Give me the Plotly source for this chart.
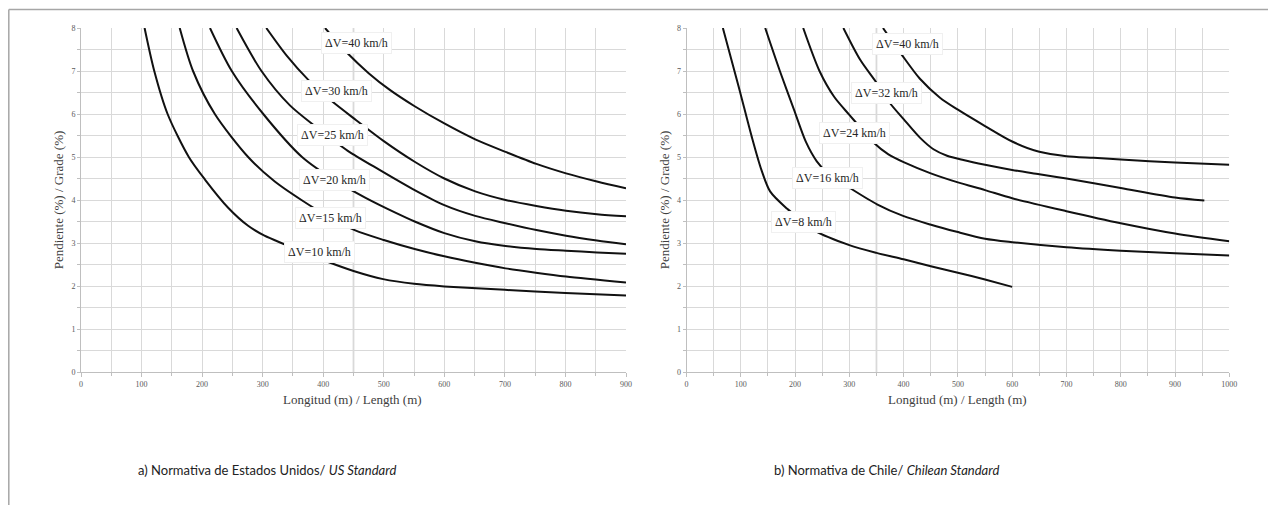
import plotly.graph_objects as go

# ---------------- data: US standard (left panel) ----------------
us_labels = ["ΔV=10 km/h", "ΔV=15 km/h", "ΔV=20 km/h", "ΔV=25 km/h", "ΔV=30 km/h", "ΔV=40 km/h"]

us10_x = [105, 121, 143, 178, 205, 243, 276, 303, 336, 372, 406, 450, 499, 550, 600, 700, 800, 900]
us10_y = [8.0, 7.0, 6.0, 5.0, 4.47, 3.82, 3.40, 3.17, 2.97, 2.76, 2.57, 2.35, 2.16, 2.05, 1.99, 1.91, 1.84, 1.78]

us15_x = [163, 185, 221, 276, 320, 364, 410, 452, 500, 551, 600, 651, 701, 751, 801, 900]
us15_y = [8.0, 7.0, 6.0, 5.0, 4.43, 4.00, 3.60, 3.30, 3.07, 2.86, 2.69, 2.54, 2.41, 2.31, 2.22, 2.08]

us20_x = [213, 249, 301, 365, 420, 470, 520, 551, 600, 651, 701, 752, 801, 852, 900]
us20_y = [8.0, 7.0, 6.0, 5.0, 4.45, 4.05, 3.70, 3.50, 3.23, 3.04, 2.93, 2.86, 2.82, 2.78, 2.75]

us25_x = [257, 298, 345, 390, 440, 493, 551, 600, 651, 701, 752, 801, 852, 900]
us25_y = [8.0, 7.0, 6.2, 5.68, 5.15, 4.70, 4.23, 3.88, 3.63, 3.46, 3.30, 3.17, 3.06, 2.97]

us30_x = [306, 340, 375, 414, 455, 500, 551, 600, 651, 701, 752, 801, 852, 900]
us30_y = [8.0, 7.35, 6.80, 6.30, 5.85, 5.37, 4.89, 4.50, 4.20, 4.00, 3.86, 3.75, 3.67, 3.62]

us40_x = [403, 441, 475, 510, 551, 600, 651, 701, 752, 801, 852, 900]
us40_y = [8.0, 7.40, 6.95, 6.56, 6.18, 5.78, 5.41, 5.12, 4.84, 4.62, 4.43, 4.27]

us_label_x = [394, 412, 419, 416, 422, 455]
us_label_y = [2.79, 3.59, 4.47, 5.51, 6.54, 7.66]

# ---------------- data: Chilean standard (right panel) ----------------
cl_labels = ["ΔV=8 km/h", "ΔV=16 km/h", "ΔV=24 km/h", "ΔV=32 km/h", "ΔV=40 km/h"]

cl8_x = [67, 96, 120, 138, 154, 185, 215, 237, 300, 350, 400, 450, 500, 550, 600]
cl8_y = [8.0, 6.64, 5.48, 4.70, 4.20, 3.80, 3.50, 3.28, 2.95, 2.77, 2.62, 2.46, 2.31, 2.15, 1.98]

cl16_x = [145, 172, 198, 220, 240, 262, 301, 351, 399, 449, 498, 550, 600, 700, 800, 900, 1000]
cl16_y = [8.0, 7.0, 6.1, 5.35, 4.90, 4.60, 4.28, 3.90, 3.63, 3.43, 3.26, 3.10, 3.02, 2.90, 2.82, 2.76, 2.71]

cl24_x = [215, 245, 272, 300, 322, 345, 372, 400, 450, 500, 550, 600, 700, 800, 900, 1000]
cl24_y = [8.0, 7.0, 6.4, 5.98, 5.66, 5.33, 5.06, 4.88, 4.62, 4.41, 4.23, 4.04, 3.74, 3.46, 3.22, 3.04]

cl32_x = [289, 320, 351, 375, 400, 430, 455, 480, 510, 550, 600, 650, 700, 800, 900, 954]
cl32_y = [8.0, 7.26, 6.71, 6.25, 5.88, 5.45, 5.18, 5.03, 4.93, 4.82, 4.70, 4.60, 4.50, 4.28, 4.06, 3.99]

cl40_x = [362, 397, 430, 467, 500, 550, 600, 650, 700, 750, 800, 900, 1000]
cl40_y = [8.0, 7.37, 6.82, 6.38, 6.10, 5.72, 5.36, 5.12, 5.02, 4.98, 4.94, 4.87, 4.82]

cl_label_x = [215, 260, 309, 369, 408]
cl_label_y = [3.50, 4.52, 5.56, 6.50, 7.63]

x_title = "Longitud (m) / Length (m)"
y_title = "Pendiente (%) / Grade (%)"
caption_a = "a) Normativa de Estados Unidos/ <i>US Standard</i>"
caption_b = "b) Normativa de Chile/ <i>Chilean Standard</i>"

# ---------------- figure ----------------
# the page body keeps its default 8 px margin, so the figure is 16 px smaller
W, H = 1268, 497
OFF = 8  # page offset in screen pixels


def px_x(p):
    return (p - OFF) / W


def px_y(p):
    return 1 - (p - OFF) / H


fig = go.Figure()

line_style = dict(color="#111111", width=2, shape="spline", smoothing=0.8)

for xs, ys in [(us10_x, us10_y), (us15_x, us15_y), (us20_x, us20_y),
               (us25_x, us25_y), (us30_x, us30_y), (us40_x, us40_y)]:
    fig.add_trace(go.Scatter(x=xs, y=ys, mode="lines", line=line_style,
                             xaxis="x", yaxis="y", showlegend=False, hoverinfo="skip"))

for xs, ys in [(cl8_x, cl8_y), (cl16_x, cl16_y), (cl24_x, cl24_y),
               (cl32_x, cl32_y), (cl40_x, cl40_y)]:
    fig.add_trace(go.Scatter(x=xs, y=ys, mode="lines", line=line_style,
                             xaxis="x2", yaxis="y2", showlegend=False, hoverinfo="skip"))

serif = "Liberation Serif, Times New Roman, serif"
grid_c = "#d9d9d9"
axis_c = "#bfbfbf"
title_font = dict(family=serif, size=13, color="#404040")


def xaxis_cfg(rng, dom, anchor):
    return dict(range=rng, domain=dom, anchor=anchor, dtick=100, tick0=0,
                showgrid=True, gridcolor=grid_c, gridwidth=1,
                minor=dict(dtick=50, showgrid=True, gridcolor=grid_c, gridwidth=1,
                           ticks="outside", ticklen=3, tickcolor=axis_c),
                showline=True, linecolor=axis_c, linewidth=1,
                ticks="outside", ticklen=4, tickcolor=axis_c,
                tickfont=dict(family=serif, size=8, color="#595959"),
                zeroline=False, fixedrange=True, automargin=False)


def yaxis_cfg(dom, anchor):
    return dict(range=[0, 8], domain=dom, anchor=anchor, dtick=1, tick0=0,
                showgrid=True, gridcolor=grid_c, gridwidth=1,
                minor=dict(dtick=0.5, showgrid=True, gridcolor=grid_c, gridwidth=1,
                           ticks="outside", ticklen=3, tickcolor=axis_c),
                showline=True, linecolor=axis_c, linewidth=1,
                ticks="outside", ticklen=3, tickcolor=axis_c,
                tickfont=dict(family=serif, size=8, color="#595959"),
                zeroline=False, fixedrange=True, automargin=False,
                title=dict(text=y_title, font=title_font, standoff=4))


ydom = [px_y(372), px_y(28)]
x1dom = [px_x(81), px_x(626)]
x2dom = [px_x(686.5), px_x(1229.3)]

annotations = []
for t, x, y in zip(us_labels, us_label_x, us_label_y):
    annotations.append(dict(text=t, x=x, y=y, xref="x", yref="y", showarrow=False,
                            bgcolor="white", bordercolor="#f0f0f0", borderwidth=1, borderpad=3,
                            font=dict(family=serif, size=12, color="#262626")))
for t, x, y in zip(cl_labels, cl_label_x, cl_label_y):
    annotations.append(dict(text=t, x=x, y=y, xref="x2", yref="y2", showarrow=False,
                            bgcolor="white", bordercolor="#f0f0f0", borderwidth=1, borderpad=3,
                            font=dict(family=serif, size=12, color="#262626")))

# x-axis titles
for cx in (353, 957):
    annotations.append(dict(text=x_title, x=px_x(cx), y=px_y(399), xref="paper", yref="paper",
                            showarrow=False, font=title_font, xanchor="center", yanchor="middle"))

cap_font = dict(family="Lato, sans-serif", size=13, color="#222222")
annotations.append(dict(text=caption_a, x=px_x(267), y=px_y(470), xref="paper", yref="paper",
                        showarrow=False, font=cap_font, xanchor="center", yanchor="middle"))
annotations.append(dict(text=caption_b, x=px_x(886), y=px_y(470), xref="paper", yref="paper",
                        showarrow=False, font=cap_font, xanchor="center", yanchor="middle"))

shapes = [
    dict(type="line", xref="x", yref="y", x0=450, x1=450, y0=0, y1=8,
         line=dict(color="#c4c4c4", width=1.5), layer="below"),
    dict(type="line", xref="x2", yref="y2", x0=350, x1=350, y0=0, y1=8,
         line=dict(color="#c4c4c4", width=1.5), layer="below"),
    # outer frame (top and left)
    dict(type="line", xref="paper", yref="paper", x0=0.8 / W, x1=1, y0=1 - 1.5 / H, y1=1 - 1.5 / H,
         line=dict(color="#a6a6a6", width=1.5)),
    dict(type="line", xref="paper", yref="paper", x0=0.8 / W, x1=0.8 / W, y0=0, y1=1 - 1.5 / H,
         line=dict(color="#a6a6a6", width=1.5)),
]

fig.update_layout(
    width=W, height=H,
    margin=dict(l=0, r=0, t=0, b=0),
    paper_bgcolor="white", plot_bgcolor="white",
    xaxis=xaxis_cfg([0, 900], x1dom, "y"),
    yaxis=yaxis_cfg(ydom, "x"),
    xaxis2=xaxis_cfg([0, 1000], x2dom, "y2"),
    yaxis2=yaxis_cfg(ydom, "x2"),
    annotations=annotations,
    shapes=shapes,
    showlegend=False,
)

fig.write_html("out.html")
